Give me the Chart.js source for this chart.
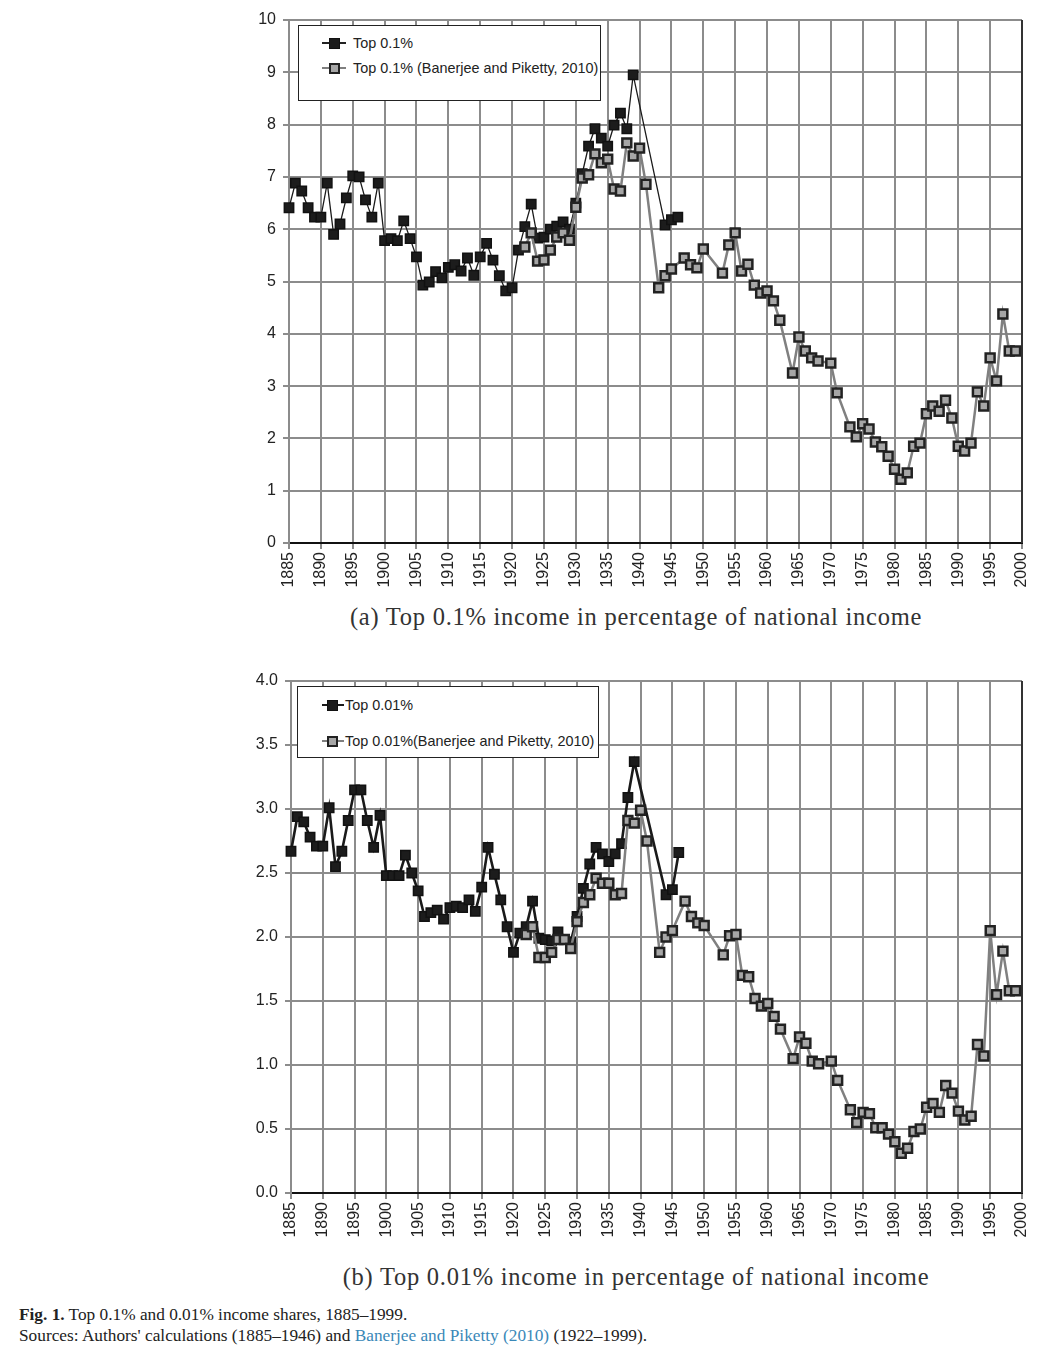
<!DOCTYPE html>
<html>
<head>
<meta charset="utf-8">
<script src="https://cdn.jsdelivr.net/npm/chart.js@4/dist/chart.umd.min.js"></script>
<style>
  html, body { margin:0; padding:0; background:#fff; }
  body { width:1048px; height:1352px; position:relative; overflow:hidden; }
  canvas { position:absolute; left:0; }
  .legend { position:absolute; border:1px solid #222; background:#fff; box-sizing:border-box; }
  .row { position:absolute; left:0; right:0; height:0; }
  .ln { position:absolute; top:0; }
  .sq { position:absolute; box-sizing:border-box; }
  .lt { position:absolute; font-family:"Liberation Sans", Arial, sans-serif; font-size:14.4px; color:#222; white-space:nowrap; transform:translateY(-50%); }
  .cap { position:absolute; width:1048px; left:112px; text-align:center; font-family:"Liberation Serif", "Times New Roman", serif; font-size:24.5px; letter-spacing:0.75px; color:#333; white-space:nowrap; }
  .foot { position:absolute; left:19px; font-family:"Liberation Serif", "Times New Roman", serif; font-size:17.3px; color:#222; white-space:nowrap; }
  .foot a { color:#3a88b8; text-decoration:none; }
</style>
</head>
<body>
<canvas id="c1" width="1048" height="600" style="top:0px;width:1048px;height:600px"></canvas>
<canvas id="c2" width="1048" height="589" style="top:661px;width:1048px;height:589px"></canvas>

<div class="legend" style="left:298px;top:25px;width:303px;height:76px">
  <div class="row" style="top:17px">
    <div class="ln" style="left:23px;width:24px;height:1.5px;margin-top:-0.75px;background:#222"></div>
    <div class="sq" style="left:30px;top:-5.5px;width:11px;height:11px;background:#1c1c1c;border:1.5px solid #111"></div>
    <div class="lt" style="left:54px">Top 0.1%</div>
  </div>
  <div class="row" style="top:42px">
    <div class="ln" style="left:23px;width:24px;height:2px;margin-top:-1px;background:#7f7f7f"></div>
    <div class="sq" style="left:30px;top:-5.5px;width:11px;height:11px;background:#a6a6a6;border:2px solid #222"></div>
    <div class="lt" style="left:54px">Top 0.1% (Banerjee and Piketty, 2010)</div>
  </div>
</div>

<div class="legend" style="left:297px;top:686px;width:302px;height:72px">
  <div class="row" style="top:18px">
    <div class="ln" style="left:24px;width:22px;height:2.5px;margin-top:-1.25px;background:#1a1a1a"></div>
    <div class="sq" style="left:29px;top:-5.5px;width:11px;height:11px;background:#1c1c1c;border:1.5px solid #111"></div>
    <div class="lt" style="left:47px">Top 0.01%</div>
  </div>
  <div class="row" style="top:54px">
    <div class="ln" style="left:24px;width:22px;height:2px;margin-top:-1px;background:#7f7f7f"></div>
    <div class="sq" style="left:29px;top:-5.5px;width:11px;height:11px;background:#a6a6a6;border:2px solid #222"></div>
    <div class="lt" style="left:47px">Top 0.01%(Banerjee and Piketty, 2010)</div>
  </div>
</div>

<div class="cap" style="top:603px">(a) Top 0.1% income in percentage of national income</div>
<div class="cap" style="top:1263px">(b) Top 0.01% income in percentage of national income</div>

<div class="foot" style="top:1305px"><b>Fig. 1.</b> Top 0.1% and 0.01% income shares, 1885–1999.</div>
<div class="foot" style="top:1326px">Sources: Authors' calculations (1885–1946) and <a>Banerjee and Piketty (2010)</a> (1922–1999).</div>

<script>
// ---------- DATA ----------
const authorYears = [
  1885,1886,1887,1888,1889,1890,1891,1892,1893,1894,1895,1896,1897,1898,1899,
  1900,1901,1902,1903,1904,1905,1906,1907,1908,1909,1910,1911,1912,1913,1914,
  1915,1916,1917,1918,1919,1920,1921,1922,1923,1924,1925,1926,1927,1928,1929,
  1930,1931,1932,1933,1934,1935,1936,1937,1938,1939,1944,1945,1946
];
const top01Authors = [
  6.41,6.88,6.73,6.41,6.23,6.23,6.88,5.90,6.10,6.60,7.02,7.00,6.56,6.23,6.88,
  5.78,5.82,5.78,6.16,5.82,5.47,4.93,4.99,5.19,5.07,5.27,5.32,5.20,5.45,5.12,
  5.47,5.73,5.41,5.11,4.82,4.88,5.60,6.05,6.48,5.83,5.85,6.00,6.06,6.14,6.00,
  6.50,7.06,7.59,7.92,7.74,7.59,7.99,8.22,7.92,8.95,6.08,6.18,6.23
];
const top001Authors = [
  2.67,2.94,2.90,2.78,2.71,2.71,3.01,2.55,2.67,2.91,3.15,3.15,2.91,2.70,2.95,
  2.48,2.48,2.48,2.64,2.50,2.36,2.16,2.19,2.21,2.14,2.23,2.24,2.23,2.29,2.20,
  2.39,2.70,2.49,2.29,2.08,1.88,2.03,2.08,2.28,1.99,1.98,1.97,2.04,1.98,1.96,
  2.16,2.38,2.57,2.70,2.65,2.59,2.65,2.73,3.09,3.37,2.33,2.37,2.66
];
const bpYears = [
  1922,1923,1924,1925,1926,1927,1928,1929,1930,1931,1932,1933,1934,1935,1936,
  1937,1938,1939,1940,1941,1943,1944,1945,1947,1948,1949,1950,1953,1954,1955,
  1956,1957,1958,1959,1960,1961,1962,1964,1965,1966,1967,1968,1970,1971,1973,
  1974,1975,1976,1977,1978,1979,1980,1981,1982,1983,1984,1985,1986,1987,1988,
  1989,1990,1991,1992,1993,1994,1995,1996,1997,1998,1999
];
const top01BP = [
  5.66,5.93,5.39,5.41,5.60,5.85,5.93,5.79,6.42,6.98,7.04,7.44,7.27,7.34,6.77,
  6.73,7.65,7.40,7.55,6.86,4.88,5.11,5.24,5.45,5.32,5.26,5.62,5.16,5.70,5.93,
  5.20,5.33,4.93,4.78,4.82,4.63,4.26,3.25,3.94,3.67,3.54,3.48,3.44,2.87,2.22,
  2.03,2.28,2.18,1.93,1.84,1.66,1.41,1.22,1.34,1.85,1.91,2.47,2.62,2.52,2.73,
  2.39,1.85,1.76,1.91,2.89,2.62,3.54,3.10,4.38,3.67,3.67
];
const top001BP = [
  2.02,2.08,1.84,1.84,1.88,1.98,1.98,1.91,2.12,2.27,2.33,2.46,2.42,2.42,2.33,
  2.34,2.91,2.89,2.99,2.75,1.88,2.00,2.05,2.28,2.16,2.11,2.09,1.86,2.01,2.02,
  1.70,1.69,1.52,1.46,1.48,1.38,1.28,1.05,1.22,1.17,1.03,1.01,1.03,0.88,0.65,
  0.55,0.63,0.62,0.51,0.51,0.46,0.40,0.31,0.35,0.48,0.50,0.67,0.70,0.63,0.84,
  0.78,0.64,0.57,0.60,1.16,1.07,2.05,1.55,1.89,1.58,1.58
];
const xMin = 1885, xMax = 2000, xStep = 5;
const labelsA = ["Top 0.1%", "Top 0.1% (Banerjee and Piketty, 2010)"];
const labelsB = ["Top 0.01%", "Top 0.01%(Banerjee and Piketty, 2010)"];

// ---------- CHARTS ----------
const pts = (xs, ys) => xs.map((x, i) => ({ x: x, y: ys[i] }));

const frame = {
  id: 'frame',
  beforeDatasetsDraw(chart) {
    const a = chart.chartArea, ctx = chart.ctx;
    ctx.save();
    ctx.strokeStyle = '#333';
    ctx.lineWidth = 2;
    ctx.beginPath();
    ctx.moveTo(a.right, a.top);
    ctx.lineTo(a.right, a.bottom);
    ctx.stroke();
    ctx.restore();
  }
};

function build(id, blackData, grayData, blackWidth, yMax, yStep, yFmt, yWidth, names) {
  const tickFont = { family: "'Liberation Sans', Arial, sans-serif", size: 16 };
  return new Chart(document.getElementById(id), {
    type: 'line',
    data: {
      datasets: [
        {
          label: names[0], data: blackData, order: 1, clip: false,
          borderColor: '#1a1a1a', borderWidth: blackWidth, tension: 0,
          pointStyle: 'rect', pointRadius: 6.6, pointHoverRadius: 6.6,
          pointBackgroundColor: '#1c1c1c', pointBorderColor: '#111', pointBorderWidth: 1.5
        },
        {
          label: names[1], data: grayData, order: 0, clip: false,
          borderColor: '#808080', borderWidth: 2.5, tension: 0,
          pointStyle: 'rect', pointRadius: 6.3, pointHoverRadius: 6.3,
          pointBackgroundColor: '#a6a6a6', pointBorderColor: '#222', pointBorderWidth: 2.5
        }
      ]
    },
    options: {
      responsive: false, animation: false, devicePixelRatio: 1,
      layout: { padding: { left: 0, right: 26, top: 20, bottom: 0 } },
      plugins: { legend: { display: false }, tooltip: { enabled: false } },
      scales: {
        x: {
          type: 'linear', min: xMin, max: xMax,
          afterFit: s => { s.height = 57; },
          ticks: { stepSize: xStep, autoSkip: false, minRotation: 90, maxRotation: 90,
                   callback: v => String(v), color: '#222', font: tickFont, padding: 3 },
          grid: { color: '#8c8c8c', lineWidth: 2, tickLength: 6, drawTicks: true },
          border: { display: true, color: '#111', width: 2 }
        },
        y: {
          min: 0, max: yMax,
          afterFit: s => { s.width = yWidth; },
          ticks: { stepSize: yStep, callback: yFmt, color: '#222', font: tickFont, padding: 7 },
          grid: { color: '#8c8c8c', lineWidth: 2, tickLength: 6, drawTicks: true },
          border: { display: true, color: '#8c8c8c', width: 2 }
        }
      }
    },
    plugins: [frame]
  });
}

build('c1', pts(authorYears, top01Authors), pts(bpYears, top01BP), 1.3, 10, 1, v => String(v), 289, labelsA);
build('c2', pts(authorYears, top001Authors), pts(bpYears, top001BP), 2.6, 4, 0.5, v => Number(v).toFixed(1), 291, labelsB);
</script>
</body>
</html>
